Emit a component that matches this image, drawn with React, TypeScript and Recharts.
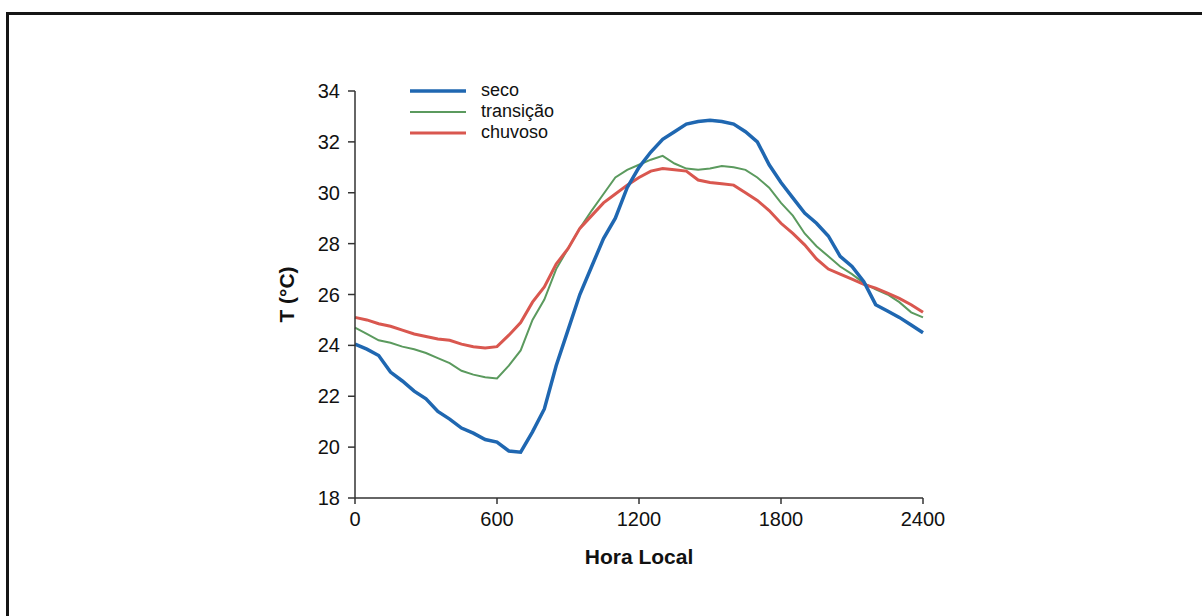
import { LineChart, Line, XAxis, YAxis, Label } from 'recharts';

// hora local (HHMM), half-hourly readings
const horas = [
  0, 50, 100, 150, 200, 250, 300, 350, 400, 450, 500, 550, 600, 650, 700, 750,
  800, 850, 900, 950, 1000, 1050, 1100, 1150, 1200, 1250, 1300, 1350, 1400, 1450,
  1500, 1550, 1600, 1650, 1700, 1750, 1800, 1850, 1900, 1950, 2000, 2050, 2100,
  2150, 2200, 2250, 2300, 2350, 2400,
];

const seco = [
  24.05, 23.85, 23.6, 22.95, 22.6, 22.2, 21.9, 21.4, 21.1, 20.75, 20.55, 20.3,
  20.2, 19.85, 19.8, 20.6, 21.5, 23.2, 24.6, 26.0, 27.1, 28.2, 29.0, 30.2, 31.0,
  31.6, 32.1, 32.4, 32.7, 32.8, 32.85, 32.8, 32.7, 32.4, 32.0, 31.1, 30.4, 29.8,
  29.2, 28.8, 28.3, 27.5, 27.1, 26.5, 25.6, 25.35, 25.1, 24.8, 24.5,
];

const transicao = [
  24.7, 24.45, 24.2, 24.1, 23.95, 23.85, 23.7, 23.5, 23.3, 23.0, 22.85, 22.75,
  22.7, 23.2, 23.8, 25.0, 25.8, 27.0, 27.8, 28.6, 29.3, 29.95, 30.6, 30.9, 31.1,
  31.3, 31.45, 31.15, 30.95, 30.9, 30.95, 31.05, 31.0, 30.9, 30.6, 30.2, 29.6,
  29.1, 28.4, 27.9, 27.5, 27.1, 26.8, 26.45, 26.2, 26.0, 25.7, 25.3, 25.1,
];

const chuvoso = [
  25.1, 25.0, 24.85, 24.75, 24.6, 24.45, 24.35, 24.25, 24.2, 24.05, 23.95, 23.9,
  23.95, 24.4, 24.9, 25.7, 26.3, 27.2, 27.8, 28.6, 29.1, 29.6, 29.95, 30.3, 30.6,
  30.85, 30.95, 30.9, 30.85, 30.5, 30.4, 30.35, 30.3, 30.0, 29.7, 29.3, 28.8,
  28.4, 27.95, 27.4, 27.0, 26.8, 26.6, 26.4, 26.25, 26.05, 25.85, 25.6, 25.3,
];

const xTicks = [0, 600, 1200, 1800, 2400];
const yTicks = [18, 20, 22, 24, 26, 28, 30, 32, 34];

const COLORS = { seco: '#1f67b1', transicao: '#5b9a5e', chuvoso: '#d9574f' };
const FONT = '"Liberation Sans", Arial, sans-serif';

const data = horas.map((t, i) => ({
  t,
  seco: seco[i],
  transicao: transicao[i],
  chuvoso: chuvoso[i],
}));

const legendItems = [
  { label: 'seco', color: COLORS.seco, width: 3.5 },
  { label: 'transição', color: COLORS.transicao, width: 2 },
  { label: 'chuvoso', color: COLORS.chuvoso, width: 3 },
];

// legend sits inside the plot, top-left, as a plain overlay
const LegendBox = () => (
  <div style={{ position: 'absolute', left: 410, top: 80, fontFamily: FONT, fontSize: 18, color: '#111' }}>
    {legendItems.map((it) => (
      <div key={it.label} style={{ display: 'flex', alignItems: 'center', height: 21 }}>
        <svg width={56} height={10} style={{ marginRight: 15 }}>
          <line x1={0} y1={5} x2={56} y2={5} stroke={it.color} strokeWidth={it.width} />
        </svg>
        <span>{it.label}</span>
      </div>
    ))}
  </div>
);

const tickStyle = { fill: '#111', fontSize: 20, fontFamily: FONT };

export default function App() {
  return (
    <div style={{ position: 'absolute', left: 0, top: 0, width: 1202, height: 616, background: '#fff', overflow: 'hidden' }}>
      <div
        style={{
          position: 'absolute', left: 6, top: 12, width: 1300, height: 700,
          borderTop: '3px solid #151515', borderLeft: '3px solid #151515',
        }}
      />
      <div style={{ position: 'absolute', left: 0, top: 0 }}>
        <LineChart width={1202} height={616} data={data} margin={{ top: 91, right: 279, bottom: 58, left: 295 }}>
          <XAxis
            type="number"
            dataKey="t"
            domain={[0, 2400]}
            ticks={xTicks}
            interval={0}
            tickSize={6}
            tickMargin={8}
            height={60}
            stroke="#333"
            strokeWidth={1.5}
            tick={tickStyle}
          >
            <Label
              content={({ viewBox }: any) => (
                <text
                  x={viewBox.x + viewBox.width / 2}
                  y={viewBox.y + 66}
                  textAnchor="middle"
                  fontFamily={FONT}
                  fontSize={21}
                  fontWeight="bold"
                  fill="#111"
                >
                  Hora Local
                </text>
              )}
            />
          </XAxis>
          <YAxis
            type="number"
            domain={[18, 34]}
            ticks={yTicks}
            interval={0}
            width={60}
            tickSize={7}
            tickMargin={8}
            stroke="#333"
            strokeWidth={1.5}
            tick={tickStyle}
          >
            <Label
              content={({ viewBox }: any) => {
                const cx = viewBox.x - 1;
                const cy = viewBox.y + viewBox.height / 2;
                return (
                  <text
                    x={cx}
                    y={cy}
                    transform={`rotate(-90 ${cx} ${cy})`}
                    textAnchor="middle"
                    fontFamily={FONT}
                    fontSize={21}
                    fontWeight="bold"
                    fill="#111"
                  >
                    T (°C)
                  </text>
                );
              }}
            />
          </YAxis>
          <Line dataKey="transicao" stroke={COLORS.transicao} strokeWidth={2} dot={false} isAnimationActive={false} />
          <Line dataKey="chuvoso" stroke={COLORS.chuvoso} strokeWidth={3} dot={false} isAnimationActive={false} />
          <Line dataKey="seco" stroke={COLORS.seco} strokeWidth={3.5} dot={false} isAnimationActive={false} />
        </LineChart>
        <LegendBox />
      </div>
    </div>
  );
}
